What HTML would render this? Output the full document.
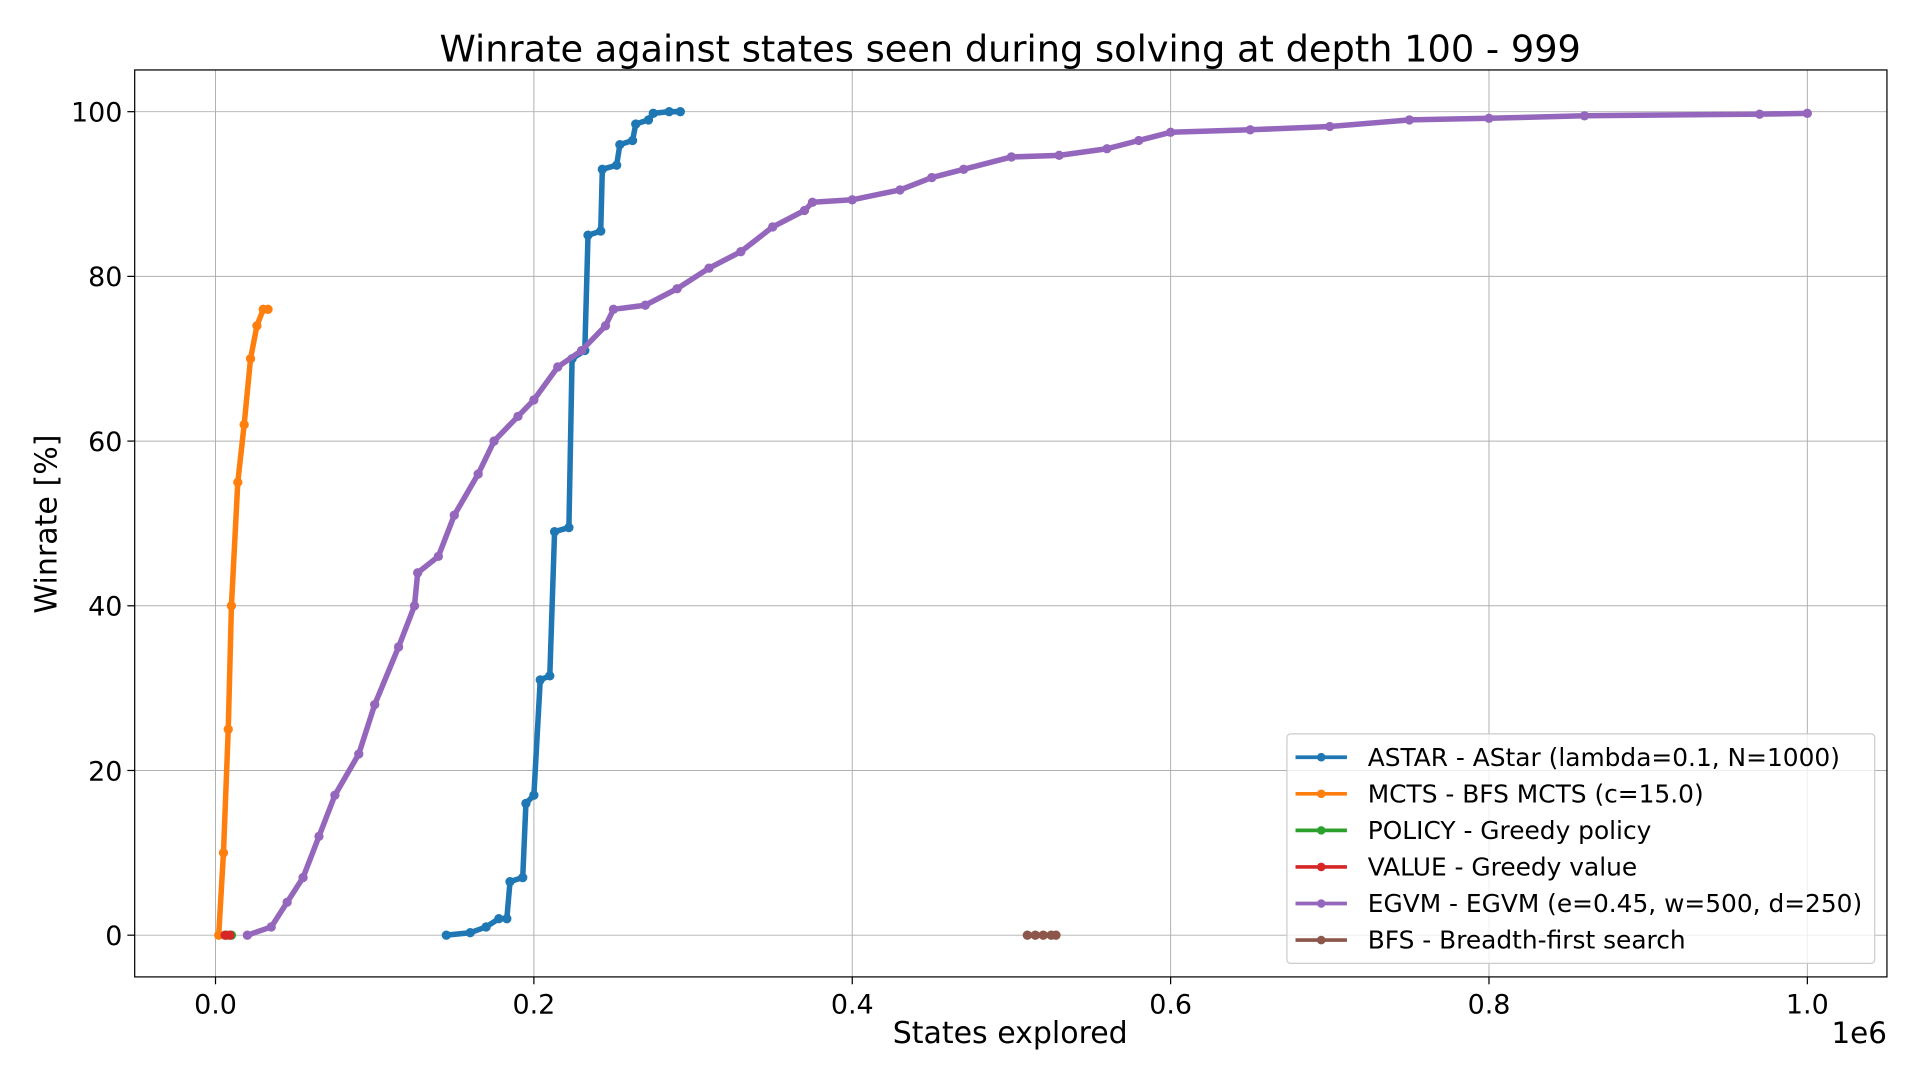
<!DOCTYPE html>
<html><head><meta charset="utf-8"><style>
html,body{margin:0;padding:0;background:#fff;}
svg{display:block;font-family:"DejaVu Sans","Liberation Sans",sans-serif;}
</style></head><body>
<svg id="chart" width="1920" height="1080" viewBox="0 0 1568 880" preserveAspectRatio="none" xmlns="http://www.w3.org/2000/svg">
<rect x="0" y="0" width="1568" height="880" fill="#fff"/>
<text x="825" y="50" font-size="30" text-anchor="middle">Winrate against states seen during solving at depth 100 - 999</text>
<g id="grid"></g>
<g id="series"></g>
<rect x="110" y="57" width="1431" height="739" fill="none" stroke="#000" stroke-width="1"/>
<g id="ticks"></g>
<text x="825" y="850" font-size="24.5" text-anchor="middle">States explored</text>
<text x="1541" y="850" font-size="24" text-anchor="end">1e6</text>
<text transform="translate(46,427) rotate(-90)" font-size="24.5" text-anchor="middle">Winrate [%]</text>
<g id="legend"></g>
</svg>
<script>
const xTicks=[0,0.2,0.4,0.6,0.8,1.0];
const xTickLabels=["0.0","0.2","0.4","0.6","0.8","1.0"];
const yTicks=[0,20,40,60,80,100];
const seriesNames=["ASTAR - AStar (lambda=0.1, N=1000)","MCTS - BFS MCTS (c=15.0)","POLICY - Greedy policy","VALUE - Greedy value","EGVM - EGVM (e=0.45, w=500, d=250)","BFS - Breadth-first search"];
const seriesColors=["#1f77b4","#ff7f0e","#2ca02c","#d62728","#9467bd","#8c564b"];
const astarX=[0.145,0.16,0.17,0.178,0.183,0.185,0.193,0.195,0.2,0.204,0.21,0.213,0.222,0.224,0.232,0.234,0.242,0.243,0.252,0.254,0.262,0.264,0.272,0.275,0.285,0.292];
const astarY=[0,0.3,1,2,2,6.5,7,16,17,31,31.5,49,49.5,70,71,85,85.5,93,93.5,96,96.5,98.5,99,99.8,100,100];
const mctsX=[0.002,0.005,0.008,0.01,0.014,0.018,0.022,0.026,0.03,0.033];
const mctsY=[0,10,25,40,55,62,70,74,76,76];
const policyX=[0.007,0.01];
const policyY=[0,0];
const valueX=[0.006,0.009];
const valueY=[0,0];
const egvmX=[0.02,0.035,0.045,0.055,0.065,0.075,0.09,0.1,0.115,0.125,0.127,0.14,0.15,0.165,0.175,0.19,0.2,0.215,0.23,0.245,0.25,0.27,0.29,0.31,0.33,0.35,0.37,0.375,0.4,0.43,0.45,0.47,0.5,0.53,0.56,0.58,0.6,0.65,0.7,0.75,0.8,0.86,0.97,1.0];
const egvmY=[0,1,4,7,12,17,22,28,35,40,44,46,51,56,60,63,65,69,71,74,76,76.5,78.5,81,83,86,88,89,89.3,90.5,92,93,94.5,94.7,95.5,96.5,97.5,97.8,98.2,99,99.2,99.5,99.7,99.8];
const bfsX=[0.51,0.515,0.52,0.525,0.528];
const bfsY=[0,0,0,0,0];

const NS="http://www.w3.org/2000/svg";
const sx=v=>176+v*1300;
const sy=v=>762-v*6.71;
function mk(tag,attrs,parent){const e=document.createElementNS(NS,tag);for(const k in attrs)e.setAttribute(k,attrs[k]);parent.appendChild(e);return e;}
const grid=document.getElementById('grid'),ticks=document.getElementById('ticks'),ser=document.getElementById('series'),leg=document.getElementById('legend');
xTicks.forEach((t,i)=>{
  const g=mk('line',{x1:sx(t),x2:sx(t),y1:57,y2:796,stroke:'#b0b0b0','stroke-width':0.8},grid);
  
  
  mk('line',{x1:sx(t),x2:sx(t),y1:796,y2:802,stroke:'#000'},ticks);
  const l=mk('text',{x:sx(t),y:826,'font-size':22,'text-anchor':'middle'},ticks);
  l.textContent=xTickLabels[i];
  
  
});
yTicks.forEach(t=>{
  const g=mk('line',{x1:110,x2:1541,y1:sy(t),y2:sy(t),stroke:'#b0b0b0','stroke-width':0.8},grid);
  
  
  mk('line',{x1:104,x2:110,y1:sy(t),y2:sy(t),stroke:'#000'},ticks);
  const l=mk('text',{x:100,y:sy(t)+8,'font-size':22,'text-anchor':'end'},ticks);
  l.textContent=String(t);
  
  
});
const allX=[astarX,mctsX,policyX,valueX,egvmX,bfsX],allY=[astarY,mctsY,policyY,valueY,egvmY,bfsY];
const seriesKeys=['astar','mcts','policy','value','egvm','bfs'];
allX.forEach((xs,i)=>{
  const g=mk('g',{},ser);
  
  
  const pts=xs.map((x,j)=>sx(x)+','+sy(allY[i][j])).join(' ');
  const pl=mk('polyline',{points:pts,fill:'none',stroke:seriesColors[i],'stroke-width':4.5,'stroke-linejoin':'round'},g);
  
  
  xs.forEach((x,j)=>{
    const c=mk('circle',{cx:sx(x),cy:sy(allY[i][j]),r:3.8,fill:seriesColors[i]},g);
    
    
  });
});
mk('rect',{x:1051,y:598,width:480,height:187,rx:3,fill:'#fff','fill-opacity':0.8,stroke:'#ccc'},leg);
seriesNames.forEach((n,i)=>{
  const y=617+i*29.8;
  const g=mk('g',{},leg);
  
  
  mk('line',{x1:1058,x2:1100,y1:y,y2:y,stroke:seriesColors[i],'stroke-width':3},g);
  mk('circle',{cx:1079,cy:y,r:3.5,fill:seriesColors[i]},g);
  const t=mk('text',{x:1117,y:y+7,'font-size':20.3},g);
  t.textContent=n;
});
</script>
</body></html>
